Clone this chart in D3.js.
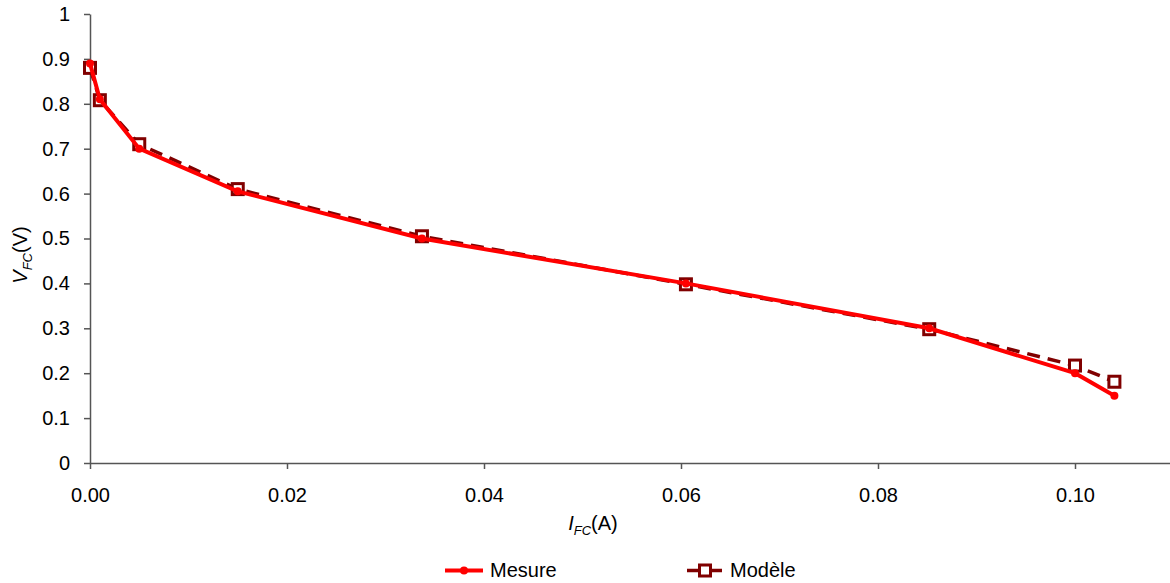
<!DOCTYPE html>
<html>
<head>
<meta charset="utf-8">
<script src="https://cdn.jsdelivr.net/npm/d3@7"></script>
<style>
body{margin:0;background:#fff;}
svg{display:block;font-family:"Liberation Sans",Arial,sans-serif;}
</style>
</head>
<body>
<svg id="chart" width="1170" height="583"></svg>
<script>
const current = [0.0, 0.001, 0.005, 0.015, 0.0337, 0.0605, 0.0852, 0.1, 0.104];
const mesure  = [0.89, 0.81, 0.70, 0.605, 0.50, 0.40, 0.30, 0.20, 0.15];
const modele  = [0.88, 0.808, 0.71, 0.61, 0.505, 0.398, 0.298, 0.217, 0.181];
const xTicks = [0, 0.02, 0.04, 0.06, 0.08, 0.10];
const yTicks = [0, 0.1, 0.2, 0.3, 0.4, 0.5, 0.6, 0.7, 0.8, 0.9, 1];
const seriesNames = ["Mesure", "Modèle"];

const svg = d3.select("#chart");
const x = d3.scaleLinear().domain([0, 0.11]).range([90, 1173.5]);
const y = d3.scaleLinear().domain([0, 1]).range([463, 14]);

const FS = 20;

// axes
const xAxis = d3.axisBottom(x).tickValues(xTicks).tickFormat(d3.format(".2f")).tickSize(6).tickSizeOuter(0);
const gx = svg.append("g").attr("transform", `translate(0,${y(0)})`).call(xAxis);
gx.select(".domain").attr("stroke", "#555").attr("stroke-width", 1.5);
gx.selectAll(".tick line").attr("stroke", "#555").attr("stroke-width", 1.5);
gx.selectAll(".tick text").attr("font-size", FS).attr("fill", "#000").attr("y", 39).attr("dy", 0);

const yAxis = d3.axisLeft(y).tickValues(yTicks).tickFormat(d => d3.format("")(d)).tickSize(6).tickSizeOuter(0);
const gy = svg.append("g").attr("transform", `translate(${x(0)},0)`).call(yAxis);
gy.select(".domain").attr("stroke", "#555").attr("stroke-width", 1.5);
gy.selectAll(".tick line").attr("stroke", "#555").attr("stroke-width", 1.5);
gy.selectAll(".tick text").attr("font-size", FS).attr("fill", "#000").attr("x", -20);
svg.selectAll(".tick text").attr("font-family", "Liberation Sans, Arial, sans-serif");

const pts = i => current.map((c, k) => [c, i === 0 ? mesure[k] : modele[k]]);
const line = d3.line().x(d => x(d[0])).y(d => y(d[1]));

// model dashed line + squares
svg.append("path").datum(pts(1)).attr("d", line)
  .attr("fill", "none").attr("stroke", "#800000").attr("stroke-width", 3.5)
  .attr("stroke-dasharray", "13,8");
svg.append("g").selectAll("rect").data(pts(1)).join("rect")
  .attr("x", d => x(d[0]) - 5.5).attr("y", d => y(d[1]) - 5.5)
  .attr("width", 11).attr("height", 11)
  .attr("fill", "#fff").attr("stroke", "#800000").attr("stroke-width", 3);

// measurement line + dots
svg.append("path").datum(pts(0)).attr("d", line)
  .attr("fill", "none").attr("stroke", "#ff0000").attr("stroke-width", 4);
svg.append("g").selectAll("circle").data(pts(0)).join("circle")
  .attr("cx", d => x(d[0])).attr("cy", d => y(d[1])).attr("r", 4)
  .attr("fill", "#ff0000");

// axis titles
const xt = svg.append("text").attr("x", 593).attr("y", 530).attr("text-anchor", "middle")
  .attr("font-size", FS).attr("fill", "#000");
xt.append("tspan").attr("font-style", "italic").text("I");
xt.append("tspan").attr("font-style", "italic").attr("font-size", 13).attr("dy", 5).text("FC");
xt.append("tspan").attr("dy", -5).text("(A)");

const yt = svg.append("text").attr("transform", "translate(27,255) rotate(-90)").attr("text-anchor", "middle")
  .attr("font-size", FS).attr("fill", "#000");
yt.append("tspan").attr("font-style", "italic").text("V");
yt.append("tspan").attr("font-style", "italic").attr("font-size", 13).attr("dy", 5).text("FC");
yt.append("tspan").attr("dy", -5).text("(V)");

// legend
const lg = svg.append("g");
lg.append("line").attr("x1", 445).attr("x2", 483).attr("y1", 570.5).attr("y2", 570.5)
  .attr("stroke", "#ff0000").attr("stroke-width", 4);
lg.append("circle").attr("cx", 464).attr("cy", 570.5).attr("r", 4).attr("fill", "#ff0000");
lg.append("text").attr("x", 490).attr("y", 577).attr("font-size", FS).text(seriesNames[0]);

lg.append("line").attr("x1", 687).attr("x2", 722).attr("y1", 570.5).attr("y2", 570.5)
  .attr("stroke", "#800000").attr("stroke-width", 3.5);
lg.append("rect").attr("x", 699.5).attr("y", 565).attr("width", 11).attr("height", 11)
  .attr("fill", "#fff").attr("stroke", "#800000").attr("stroke-width", 3);
lg.append("text").attr("x", 730).attr("y", 577).attr("font-size", FS).text(seriesNames[1]);
</script>
</body>
</html>
